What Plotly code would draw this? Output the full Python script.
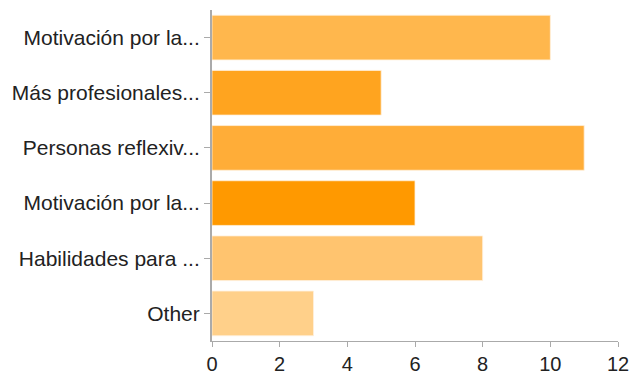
import plotly.graph_objects as go

categories = ["Motivación por la...", "Más profesionales...", "Personas reflexiv...",
              "Motivación por la...", "Habilidades para ...", "Other"]
values = [10, 5, 11, 6, 8, 3]
colors = ["#FFB74D", "#FFA41F", "#FFAD38", "#FF9900", "#FFC46F", "#FFD08A"]
x_ticks = [0, 2, 4, 6, 8, 10, 12]

positions = list(range(len(categories)))

fig = go.Figure(go.Bar(
    x=values, y=positions, orientation="h",
    marker=dict(color=colors, line=dict(color="rgba(255,240,220,0.8)", width=1)),
    width=0.81,
))

fig.update_layout(
    width=633, height=374,
    margin=dict(l=212, r=15, t=10, b=33),
    paper_bgcolor="white", plot_bgcolor="white",
    font=dict(family="Liberation Sans, Arial, sans-serif", size=20, color="#222222"),
    showlegend=False,
)
fig.update_xaxes(
    range=[0, 12], tickvals=x_ticks, showgrid=False, zeroline=False,
    showline=True, linecolor="#aaaaaa", linewidth=1,
    ticks="outside", ticklen=5, tickcolor="#aaaaaa",
    tickfont=dict(size=20, color="#222222"), automargin=False,
)
fig.update_yaxes(
    range=[len(categories) - 0.5, -0.5], tickvals=positions, ticktext=categories,
    showgrid=False, zeroline=False,
    showline=True, linecolor="#aaaaaa", linewidth=2,
    ticks="outside", ticklen=6, tickcolor="#aaaaaa",
    tickfont=dict(size=21, color="#222222"), automargin=False,
)

fig.write_html("out.html")
